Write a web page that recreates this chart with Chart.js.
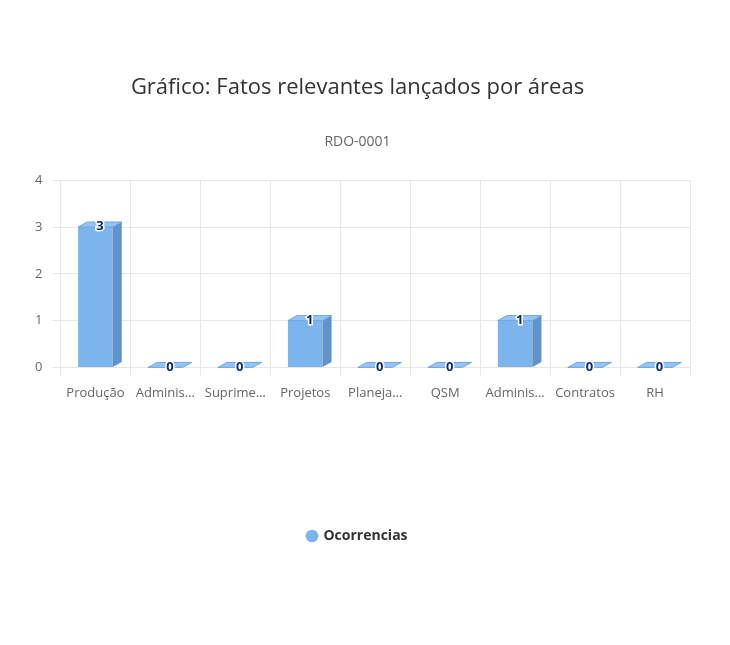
<!DOCTYPE html>
<html>
<head>
<meta charset="utf-8">
<script src="https://cdn.jsdelivr.net/npm/chart.js@4"></script>
<style>
  body { margin: 0; background: #fff; }
  #wrap { width: 730px; height: 645px; }
</style>
</head>
<body>
<div id="wrap"><canvas id="chart"></canvas></div>
<script>
const categories = ["Produção", "Adminis…", "Suprime…", "Projetos", "Planeja…", "QSM", "Adminis…", "Contratos", "RH"];
const ocorrencias = [3, 0, 0, 1, 0, 0, 1, 0, 0];
const yTicks = [0, 1, 2, 3, 4];

// fake 3D: side and top faces plus value labels
const bars3d = {
  id: "bars3d",
  afterDatasetsDraw(chart) {
    const ctx = chart.ctx;
    const meta = chart.getDatasetMeta(0);
    const dx = 9, dy = -5;
    meta.data.forEach((bar, i) => {
      const w = bar.width;
      const left = bar.x - w / 2, right = bar.x + w / 2;
      const top = bar.y, base = bar.base;
      ctx.save();
      // side face
      ctx.fillStyle = "#5f93c9";
      ctx.beginPath();
      ctx.moveTo(right, top);
      ctx.lineTo(right + dx, top + dy);
      ctx.lineTo(right + dx, base + dy);
      ctx.lineTo(right, base);
      ctx.closePath();
      ctx.fill();
      // top face
      ctx.fillStyle = "#96c4f2";
      ctx.strokeStyle = "#6aa6e6";
      ctx.beginPath();
      ctx.moveTo(left, top);
      ctx.lineTo(left + dx, top + dy);
      ctx.lineTo(right + dx, top + dy);
      ctx.lineTo(right, top);
      ctx.closePath();
      ctx.fill();
      ctx.stroke();
      // label
      ctx.font = "bold 13px 'Open Sans', sans-serif";
      ctx.textAlign = "center";
      ctx.textBaseline = "bottom";
      ctx.lineWidth = 3;
      ctx.strokeStyle = "#fff";
      ctx.fillStyle = "#0d2a6e";
      const v = String(ocorrencias[i]);
      ctx.strokeText(v, bar.x + dx / 2, top + 6);
      ctx.fillText(v, bar.x + dx / 2, top + 6);
      ctx.restore();
    });
  }
};

const ctx = document.getElementById("chart").getContext("2d");
new Chart(ctx, {
  type: "bar",
  data: {
    labels: categories,
    datasets: [
      {
        label: "Ocorrencias",
        data: ocorrencias,
        backgroundColor: "#7cb5ec",
        borderWidth: 0,
        barPercentage: 0.55,
        categoryPercentage: 0.9,
      },
    ],
  },
  options: {
    responsive: true,
    maintainAspectRatio: false,
    animation: false,
    layout: { padding: { left: 25, right: 40, top: 55, bottom: 92 } },
    scales: {
      x: {
        grid: { color: "#e6e6e6", offset: true },
        border: { color: "#e6e6e6" },
        ticks: { color: "#666", font: { family: "'Open Sans', sans-serif", size: 13 }, maxRotation: 0, autoSkip: false, padding: 10 },
        afterFit(scale) { scale.height += 108; },
      },
      y: {
        min: 0,
        max: 4,
        afterBuildTicks(scale) { scale.ticks = yTicks.map((v) => ({ value: v })); },
        grid: { color: "#e6e6e6" },
        border: { display: false },
        ticks: { color: "#666", font: { family: "'Open Sans', sans-serif", size: 13 }, padding: 10 },
      },
    },
    plugins: {
      title: {
        display: true,
        text: "Gráfico: Fatos relevantes lançados por áreas",
        color: "#333",
        font: { family: "'Open Sans', sans-serif", size: 22, weight: "normal" },
        padding: { top: 20, bottom: 12 },
      },
      subtitle: {
        display: true,
        text: "RDO-0001",
        color: "#666",
        font: { family: "'Open Sans', sans-serif", size: 14 },
        padding: { top: 20, bottom: 30 },
      },
      legend: {
        position: "bottom",
        labels: {
          usePointStyle: true,
          pointStyle: "circle",
          boxWidth: 9,
          boxHeight: 9,
          color: "#333",
          font: { family: "'Open Sans', sans-serif", size: 14, weight: "bold" },
        },
      },
      tooltip: { enabled: false },
    },
  },
  plugins: [bars3d],
});
</script>
</body>
</html>
